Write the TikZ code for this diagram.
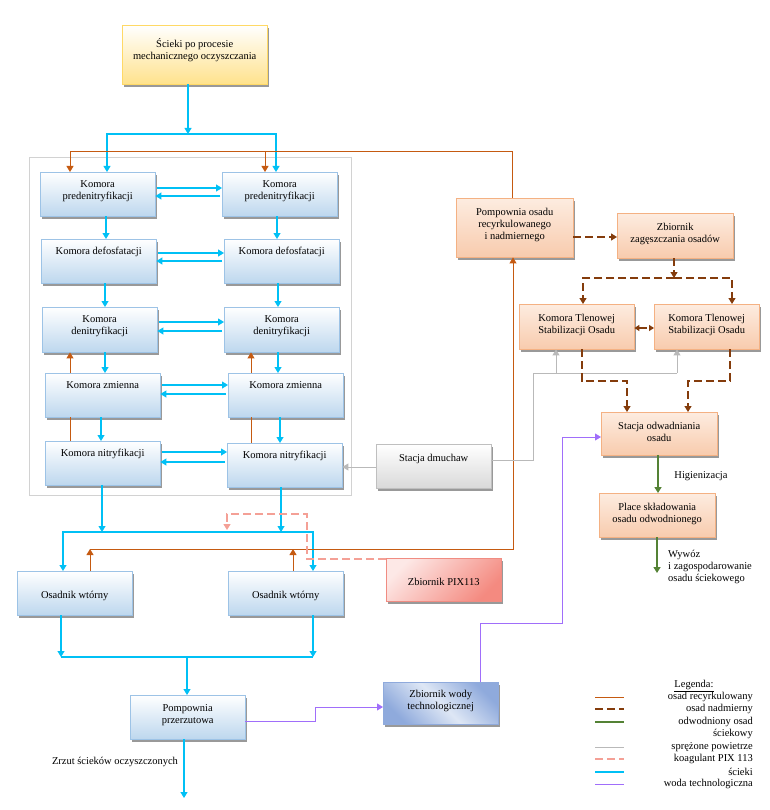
\documentclass[tikz,border=0pt]{standalone}
\usepackage{fontspec}
\setmainfont{Liberation Serif}
\usetikzlibrary{arrows.meta,shadows}
\definecolor{SciekiClr}{RGB}{0,192,245}
\definecolor{RecyClr}{RGB}{197,90,17}
\definecolor{NadmClr}{RGB}{132,60,12}
\definecolor{OdwClr}{RGB}{84,130,53}
\definecolor{PowClr}{RGB}{185,185,185}
\definecolor{KoagClr}{RGB}{244,160,150}
\definecolor{WodaClr}{RGB}{160,110,250}
\definecolor{BlueEdge}{RGB}{157,195,230}
\definecolor{BlueFill}{RGB}{189,215,238}
\definecolor{OrangeEdge}{RGB}{244,177,131}
\definecolor{OrangeTop}{RGB}{253,236,224}
\definecolor{OrangeFill}{RGB}{248,203,173}
\definecolor{YellowEdge}{RGB}{255,217,102}
\definecolor{YellowFill}{RGB}{255,226,140}
\definecolor{GrayEdge}{RGB}{191,191,191}
\definecolor{GrayFill}{RGB}{217,217,217}
\definecolor{PixEdge}{RGB}{240,140,130}
\definecolor{PixTop}{RGB}{253,232,230}
\definecolor{PixFill}{RGB}{244,138,128}
\definecolor{WodaEdge}{RGB}{143,170,220}
\definecolor{WodaFill}{RGB}{222,231,245}

\tikzset{
  blk/.style={draw, rectangle, anchor=north west, inner sep=0pt, align=center,
    drop shadow={shadow xshift=2pt, shadow yshift=-2.5pt, fill=black!40, opacity=1}},
  komora/.style={blk, draw=BlueEdge, top color=white, bottom color=BlueFill,
    minimum width=115pt, text height=15pt, text depth=29pt},
  dwa/.style={text height=27pt, text depth=17pt},
  osad/.style={blk, draw=OrangeEdge, top color=OrangeTop, bottom color=OrangeFill,
    minimum width=116pt, text height=29pt, text depth=16pt},
  grot/.style={-{Triangle[length=6pt,width=7pt]}},
  sciek/.style={draw=SciekiClr, line width=1.1pt},
  recy/.style={draw=RecyClr, line width=1pt},
  nadm/.style={draw=NadmClr, line width=1.3pt, dash pattern=on 8pt off 4pt},
  odw/.style={draw=OdwClr, line width=2pt},
  pow/.style={draw=PowClr, line width=1pt},
  koag/.style={draw=KoagClr, line width=1.3pt, dash pattern=on 8pt off 4pt},
  woda/.style={draw=WodaClr, line width=1pt},
}

\begin{document}
\begin{tikzpicture}[x=1pt, y=-1pt, font=\fontsize{10.5}{12}\selectfont]
\useasboundingbox (0,0) rectangle (769,810);

\draw[gray!35, line width=0.8pt] (29,157) rectangle (351,495);

\node[blk, draw=YellowEdge, top color=white, bottom color=YellowFill, minimum width=145pt,
  text height=34pt, text depth=25pt] (ts) at (122,25) {Ścieki po procesie\\mechanicznego oczyszczania};

\node[komora, dwa] (pdl) at (40,172) {Komora\\predenitryfikacji};
\node[komora, dwa] (pdr) at (222,172) {Komora\\predenitryfikacji};
\node[komora] (dfl) at (41,239) {Komora defosfatacji};
\node[komora] (dfr) at (224,239) {Komora defosfatacji};
\node[komora, dwa, text depth=18pt] (dnl) at (42,307) {Komora\\denitryfikacji};
\node[komora, dwa, text depth=18pt] (dnr) at (224,307) {Komora\\denitryfikacji};
\node[komora] (zml) at (45,373) {Komora zmienna};
\node[komora] (zmr) at (228,373) {Komora zmienna};
\node[komora] (nil) at (45,441) {Komora nitryfikacji};
\node[komora] (nir) at (227,443) {Komora nitryfikacji};

\node[komora, text height=27pt, text depth=17pt] (ow1) at (17,571) {Osadnik wtórny};
\node[komora, text height=27pt, text depth=17pt] (ow2) at (228,571) {Osadnik wtórny};
\node[komora, text height=28pt, text depth=16pt] (pp) at (130,695) {Pompownia\\przerzutowa};

\node[blk, draw=GrayEdge, top color=white, bottom color=GrayFill, minimum width=115pt,
  text height=17pt, text depth=27pt] (sd) at (376,444) {Stacja dmuchaw};
\node[blk, draw=PixEdge, top color=PixTop, bottom color=PixFill, shading angle=45,
  minimum width=115pt, text height=27pt, text depth=16pt] (zpix) at (386,558) {Zbiornik PIX113};
\node[blk, draw=WodaEdge, top color=WodaEdge, bottom color=WodaEdge, middle color=WodaFill,
  shading angle=-45, minimum width=115pt, text height=27pt, text depth=15pt] (zw) at (383,682) {Zbiornik wody\\technologicznej};

\node[osad, minimum width=117pt, text height=41pt, text depth=18pt] (po) at (456,198) {Pompownia osadu\\recyrkulowanego\\i nadmiernego};
\node[osad] (zz) at (617,213) {Zbiornik\\zagęszczania osadów};
\node[osad, minimum width=115pt] (ktl) at (519,304) {Komora Tlenowej\\Stabilizacji Osadu};
\node[osad, minimum width=105pt] (ktr) at (654,304) {Komora Tlenowej\\Stabilizacji Osadu};
\node[osad, text depth=14pt] (so) at (601,412) {Stacja odwadniania\\osadu};
\node[osad, text depth=15pt] (ps) at (599,493) {Place składowania\\osadu odwodnionego};

% scieki
\coordinate (js) at (188,134);
\draw[sciek, grot] (ts.south -| js) -- (js);
\draw[sciek, grot] (js) -| (107,0 |- pdl.north);
\draw[sciek, grot] (js) -| (276,0 |- pdr.north);
\foreach \l/\r/\u/\d in {pdl/pdr/188/196, dfl/dfr/253/261, dnl/dnr/322/331, zml/zmr/385/394, nil/nir/452/462}{
  \draw[sciek, grot, shorten <=2pt] (\l.east |- 0,\u) -- (\r.west |- 0,\u);
  \draw[sciek, grot, shorten <=2pt] (\r.west |- 0,\d) -- (\l.east |- 0,\d);
}
\foreach \a/\b/\x in {pdl/dfl/106, dfl/dnl/105, dnl/zml/105, zml/nil/101, pdr/dfr/277, dfr/dnr/278, dnr/zmr/278, zmr/nir/280}
  \draw[sciek, grot] (\x,0 |- \a.south) -- (\x,0 |- \b.north);

\coordinate (jn) at (188,532);
\draw[sciek, grot] (102,0 |- nil.south) -- (102,0 |- jn);
\draw[sciek, grot] (281,0 |- nir.south) -- (281,0 |- jn);
\draw[sciek, grot] (jn) -| (63,0 |- ow1.north);
\draw[sciek, grot] (jn) -| (313,0 |- ow2.north);

\coordinate (jo) at (187,657);
\draw[sciek, grot] (61,0 |- ow1.south) -- (61,0 |- jo);
\draw[sciek, grot] (313,0 |- ow2.south) -- (313,0 |- jo);
\draw[sciek] (61,0 |- jo) -- (313,0 |- jo);
\draw[sciek, grot] (jo) -- (jo |- pp.north);

\coordinate (wylot) at (184,798);
\draw[sciek, grot] (pp.south -| wylot) -- (wylot);
\node (zrzut) at (115,762) {Zrzut ścieków oczyszczonych};

% osad recyrkulowany
\foreach \n/\z/\d/\x in {nil/zml/dnl/70, nir/zmr/dnr/251}{
  \draw[recy] (\x,0 |- \n.north) -- (\x,0 |- \z.south);
  \draw[recy, grot] (\x,0 |- \z.north) -- (\x,0 |- \d.south);
}
\coordinate (rt) at (512,152);
\draw[recy, grot] (po.north -| rt) |- (70,0 |- rt) -- (70,0 |- pdl.north);
\draw[recy, grot] (265,0 |- rt) -- (265,0 |- pdr.north);

\coordinate (rb) at (513,549);
\draw[recy, grot] (90,0 |- ow1.north) -- (90,0 |- rb);
\draw[recy, grot] (293,0 |- ow2.north) -- (293,0 |- rb);
\draw[recy, grot] (90,0 |- rb) -- (rb) -- (po.south -| rb);

% koagulant
\draw[koag, grot] (zpix.west |- 0,559) -| (307,514) -| (227,530);

% powietrze
\draw[pow, grot] (sd.west |- 0,467) -- (nir.east |- 0,467);
\coordinate (ja) at (533,373);
\draw[pow] (sd.east |- 0,460) -| (ja) -- (677,0 |- ja);
\draw[pow, grot] (556,0 |- ja) -- (556,0 |- ktl.south);
\draw[pow, grot] (677,0 |- ja) -- (677,0 |- ktr.south);

% osad nadmierny
\draw[nadm, grot] (po.east |- 0,237) -- (zz.west |- 0,237);
\coordinate (jz) at (674,278);
\draw[nadm, grot] (zz.south -| jz) -- (jz);
\draw[nadm, grot] (jz) -| (583,0 |- ktl.north);
\draw[nadm, grot] (jz) -| (732,0 |- ktr.north);
\draw[nadm, {Triangle[length=5pt,width=6pt]}-{Triangle[length=5pt,width=6pt]}] (ktl.east |- 0,328) -- (ktr.west |- 0,328);
\draw[nadm, grot] (582,0 |- ktl.south) |- (627,381) -- (627,0 |- so.north);
\draw[nadm, grot] (730,0 |- ktr.south) |- (688,381) -- (688,0 |- so.north);

% osad odwodniony
\draw[odw, grot] (658,0 |- so.south) -- (658,0 |- ps.north);
\coordinate (wywoz) at (657,573);
\draw[odw, grot] (ps.south -| wywoz) -- (wywoz);
\node (hig) at (701,476) {Higienizacja};
\node[anchor=north west, align=left, inner sep=0pt] (wyw) at (668,550) {Wywóz\\i zagospodarowanie\\osadu ściekowego};

% woda technologiczna
\draw[woda, grot] (pp.east |- 0,721) -| (315,707) -- (zw.west |- 0,707);
\draw[woda, grot] (480,0 |- zw.north) |- (562,623) |- (so.west |- 0,437);

% legenda
\node (leg) at (694,686) {\underline{Legenda:}};
\foreach \s/\y/\t in {recy/697/osad recyrkulowany, nadm/709/osad nadmierny, odw/722/odwodniony osad,
  pow/747/sprężone powietrze, koag/759/koagulant PIX 113, sciek/772/ścieki, woda/784/woda technologiczna}{
  \draw[\s] (595,\y) -- (624,\y);
  \node[anchor=east, inner sep=0pt] (leg-\y) at (753,\y) {\t};
}
\node[anchor=east, inner sep=0pt] (leg-734) at (753,734) {ściekowy};
\end{tikzpicture}
\end{document}
